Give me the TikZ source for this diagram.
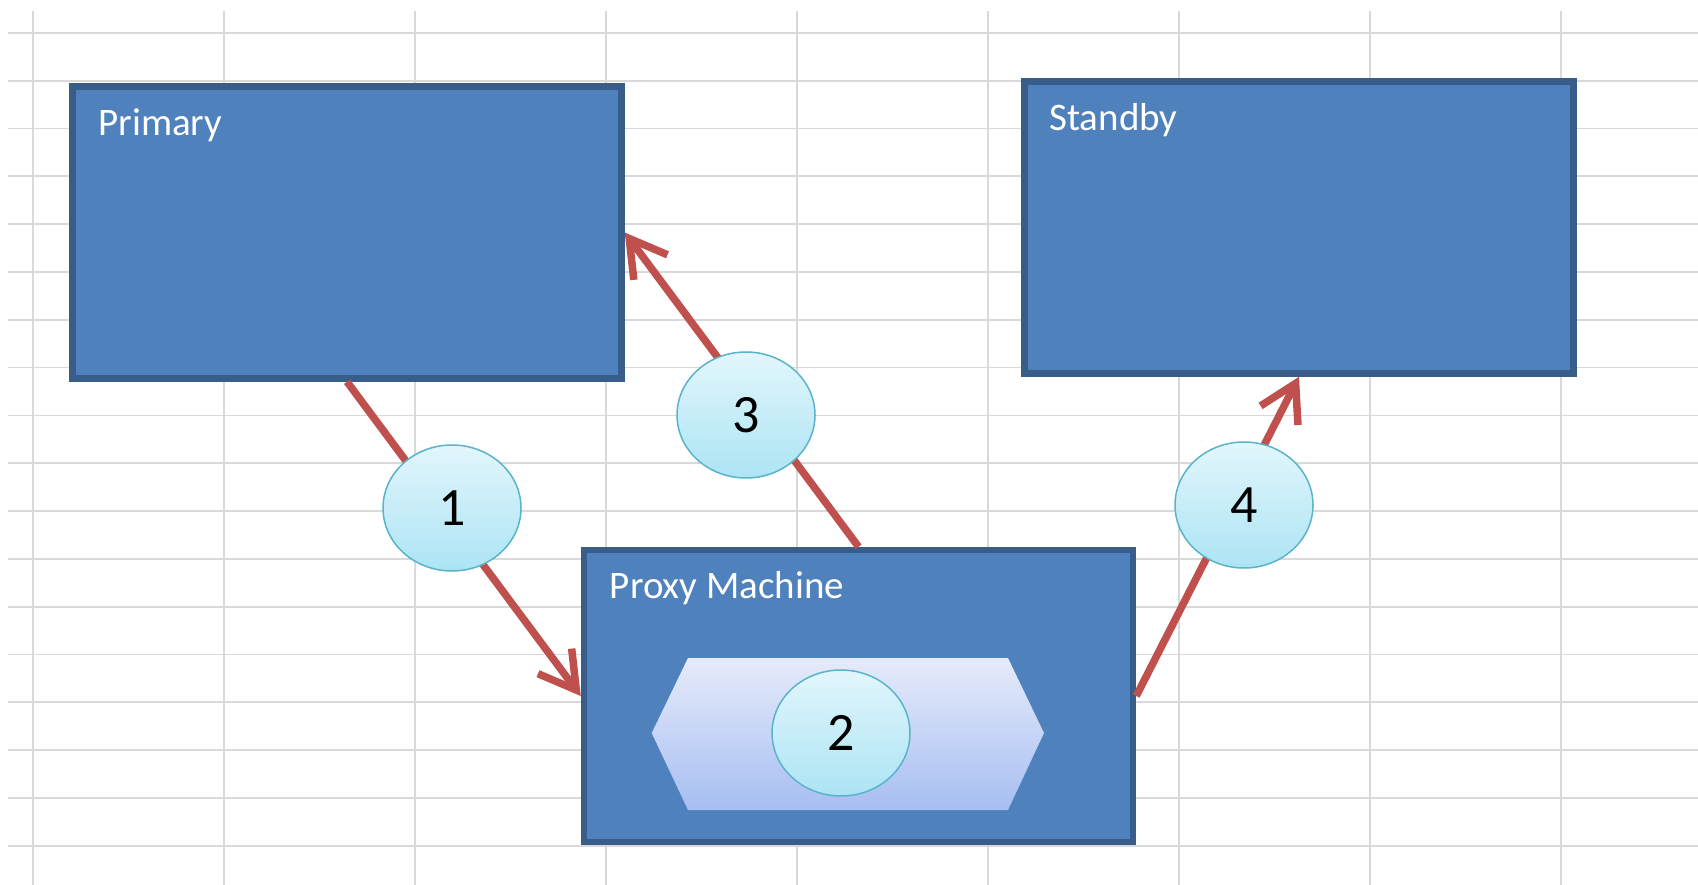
\documentclass[tikz,border=0pt]{standalone}
\usepackage{fontspec}
\setmainfont{Carlito}
\usetikzlibrary{arrows.meta,shapes.geometric}
\definecolor{boxfill}{HTML}{4F81BD}
\definecolor{boxline}{HTML}{385D8A}
\definecolor{arrowred}{HTML}{C0504D}
\definecolor{gridgray}{HTML}{D9D9D9}
\definecolor{steptop}{HTML}{E2F6FC}
\definecolor{stepbottom}{HTML}{ACE4F4}
\definecolor{stepline}{HTML}{5AB4C9}
\definecolor{hextop}{HTML}{E6EBFB}
\definecolor{hexbottom}{HTML}{A6BEF1}
\tikzstyle{gridline}=[line width=1.8pt,draw=gridgray]
\tikzstyle{machine}=[rectangle,line width=6.5pt,draw=boxline,fill=boxfill,
minimum width=549pt,minimum height=292pt,inner sep=0pt]
\tikzstyle{machinename}=[anchor=base west,inner sep=0pt,text=white,
font=\fontsize{39}{47}\selectfont]
\tikzstyle{stepno}=[ellipse,line width=1.5pt,draw=stepline,top color=steptop,
bottom color=stepbottom,minimum width=138pt,minimum height=126pt,inner sep=0pt,
font=\fontsize{54}{60}\selectfont]
\tikzstyle{hexshade}=[top color=hextop,bottom color=hexbottom]
\tikzstyle{flow}=[line width=7.5pt,draw=arrowred,-{Straight Barb[length=36pt,width=42pt]}]

\begin{document}
\begin{tikzpicture}[x=1pt,y=-1pt]
            \fill[white] (0,0) rectangle (1698,885);
            \useasboundingbox (0,0) rectangle (1698,885);

            % SHEET GRID

            \foreach \gx in {0,...,8}
                \draw[gridline] ({33+191*\gx},11) -- ({33+191*\gx},885);
            \foreach \gy in {0,...,17}
                \draw[gridline] (8,{33+47.8*\gy}) -- (1698,{33+47.8*\gy});

            % MACHINES

            \node[machine] (primary) at (347,232.5) {};
            \node[machinename] (primaryname) at ([shift={(29,52)}]primary.north west) {Primary};

            \node[machine] (standby) at (1299,227.5) {};
            \node[machinename] (standbyname) at ([shift={(28,52)}]standby.north west) {Standby};

            \node[machine] (proxy) at (858.5,696) {};
            \node[machinename] (proxyname) at ([shift={(29,52)}]proxy.north west) {Proxy Machine};

            \shade[hexshade] (651.7,733) -- (688,658) -- (1008,658) -- (1044,733)
                -- (1008,810) -- (688,810) -- cycle;

            % FLOWS

            \draw[flow] (primary.south) -- (proxy.west);
            \draw[flow] (proxy.north) -- (primary.east);
            \draw[flow] (proxy.east) -- (standby.south);

            % STEPS

            \node[stepno] (s1) at (452,508) {1};
            \node[stepno] (s2) at (841,733) {2};
            \node[stepno] (s3) at (746,415) {3};
            \node[stepno] (s4) at (1244,505) {4};

\end{tikzpicture}
\end{document}
